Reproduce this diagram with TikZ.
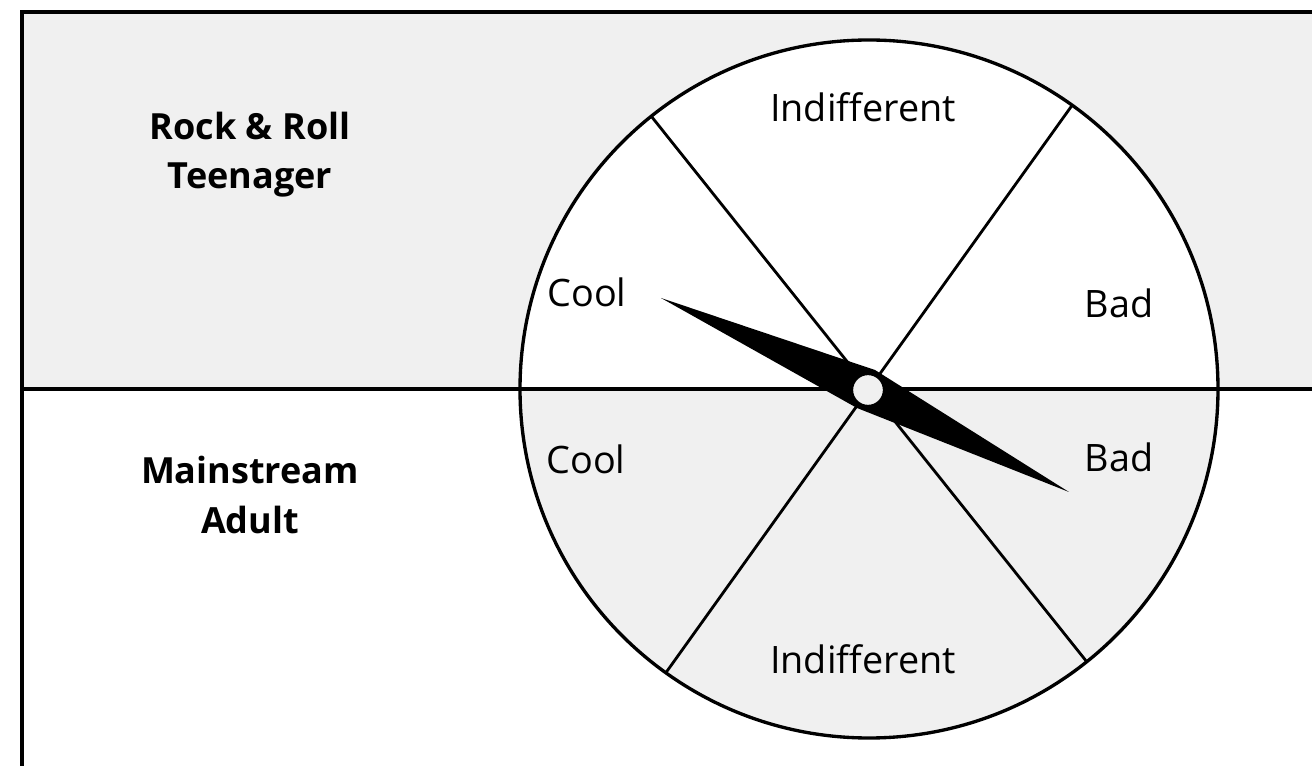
\documentclass[tikz,border=0pt]{standalone}
\usepackage{fontspec}
\setmainfont{Open Sans}
\usetikzlibrary{positioning,calc}
\definecolor{panelgray}{HTML}{F0F0F0}
\tikzset{
  frameline/.style={line width=1.9pt},
  rimline/.style={line width=1.9pt},
  spokeline/.style={line width=1.6pt},
  wedgelabel/.style={font=\fontsize{21.5}{26}\selectfont, inner sep=0pt, anchor=base},
  grouplabel/.style={font=\fontsize{20.5}{27.9}\selectfont\bfseries, align=center, inner sep=0pt}
}

\begin{document}
\begin{tikzpicture}[x=0.02cm, y=-0.02cm]
  \clip (0,0) rectangle (1312,766);
  \fill[white] (0,0) rectangle (1312,766);
  % top band
  \fill[panelgray] (22,12) rectangle (1340,389);
  \coordinate (hub) at (869,389);
  % dial: white above the line, grey below
  \fill[white] (hub) ++(-349,0) arc[start angle=180, end angle=360, radius=349] -- cycle;
  \fill[panelgray] (hub) ++(349,0) arc[start angle=0, end angle=180, radius=349] -- cycle;
  % spokes
  \draw[spokeline] ($(hub)+(-54.4:349)$) -- ($(hub)+(125.6:349)$);
  \draw[spokeline] ($(hub)+(-128.6:349)$) -- ($(hub)+(51.4:349)$);
  \draw[rimline] (hub) circle[radius=349];
  % frame and divider
  \draw[frameline] (1340,12) -- (22,12) -- (22,790);
  \draw[frameline] (22,389) -- (1340,389);

  \node[grouplabel] (teen) at (250,155) {Rock \& Roll\\Teenager};
  \node[grouplabel] (adult) at (250,495) {Mainstream\\Adult};

  \node[wedgelabel] (indifftop) at (863,122) {Indifferent};
  \node[wedgelabel] (cooltop) at (587,307) {Cool};
  \node[wedgelabel] (badtop) at (1119,318) {Bad};
  \node[wedgelabel] (coolbot) at (586,474) {Cool};
  \node[wedgelabel] (badbot) at (1119,472) {Bad};
  \node[wedgelabel] (indiffbot) at (863,673) {Indifferent};

  % needle
  \fill (661,298) -- (875,370) -- (1069,492) -- (857,408) -- cycle;
  \draw[line width=1.3pt, fill=panelgray] (868,390) circle[radius=16];
\end{tikzpicture}
\end{document}
